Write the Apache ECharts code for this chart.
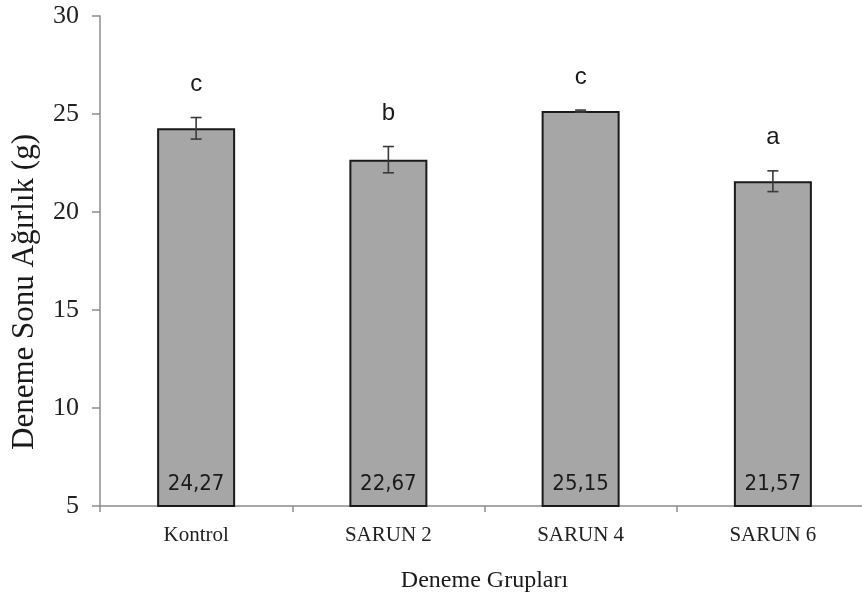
<!DOCTYPE html>
<html>
<head>
<meta charset="utf-8">
<script src="https://cdn.jsdelivr.net/npm/echarts@6/dist/echarts.min.js"></script>
<style>html,body{margin:0;padding:0;background:#fff;}#c{width:862px;height:595px;}</style>
</head>
<body>
<div id="c"></div>
<script>
const categories = ['Kontrol', 'SARUN 2', 'SARUN 4', 'SARUN 6'];
const values = [24.27, 22.67, 25.15, 21.57];
const errors = [0.55, 0.67, 0.05, 0.53];
const letters = ['c', 'b', 'c', 'a'];
const valueLabels = ['24,27', '22,67', '25,15', '21,57'];
const yTicks = [5, 10, 15, 20, 25, 30];
const yTitle = 'Deneme Sonu Ağırlık (g)';
const xTitle = 'Deneme Grupları';

const chart = echarts.init(document.getElementById('c'), null, {renderer: 'canvas'});

const errData = values.map((v, i) => [i, v, errors[i]]);

chart.setOption({
  animation: false,
  backgroundColor: '#ffffff',
  grid: {left: 100, top: 16, bottom: 89, width: 769, containLabel: false, outerBoundsMode: 'none'},
  graphic: [{
    type: 'text',
    x: 25, y: 292,
    rotation: Math.PI / 2,
    style: {
      text: yTitle, align: 'center', verticalAlign: 'middle',
      font: '31px "Liberation Serif", "Times New Roman", serif', fill: '#1a1a1a'
    }
  }],
  xAxis: {
    type: 'category',
    data: categories,
    name: xTitle,
    nameLocation: 'middle',
    nameGap: 63,
    nameTextStyle: {fontFamily: 'Liberation Serif', fontSize: 24, color: '#1a1a1a'},
    axisLine: {lineStyle: {color: '#8c8c8c', width: 1.5}},
    axisTick: {show: true, inside: false, length: 6, lineStyle: {color: '#8c8c8c', width: 1.5}},
    axisLabel: {fontFamily: 'Liberation Serif', fontSize: 21, color: '#222', margin: 19}
  },
  yAxis: {
    type: 'value',
    min: yTicks[0],
    max: yTicks[yTicks.length - 1],
    interval: 5,
    splitLine: {show: false},
    axisLine: {show: true, lineStyle: {color: '#8c8c8c', width: 1.5}},
    axisTick: {show: true, inside: false, length: 8, lineStyle: {color: '#8c8c8c', width: 1.5}},
    axisLabel: {fontFamily: 'Liberation Serif', fontSize: 26, color: '#222', margin: 21}
  },
  series: [
    {
      type: 'bar',
      data: values,
      barWidth: 78,
      itemStyle: {color: '#a6a6a6', borderColor: '#1a1a1a', borderWidth: 2},
      label: {
        show: true,
        position: 'insideBottom',
        distance: 12,
        formatter: p => valueLabels[p.dataIndex],
        fontFamily: 'Liberation Sans Narrow, DejaVu Sans Condensed, Liberation Sans, sans-serif',
        fontSize: 22,
        color: '#1a1a1a'
      },
      z: 2
    },
    {
      type: 'custom',
      data: errData,
      z: 5,
      renderItem: function (params, api) {
        const i = api.value(0), v = api.value(1), e = api.value(2);
        const top = api.coord([i, v + e]);
        const bot = api.coord([i, v - e]);
        const hw = 5.5;
        const style = {stroke: '#3a3a3a', lineWidth: 1.6};
        return {
          type: 'group',
          children: [
            {type: 'line', shape: {x1: top[0], y1: top[1], x2: bot[0], y2: bot[1]}, style},
            {type: 'line', shape: {x1: top[0] - hw, y1: top[1], x2: top[0] + hw, y2: top[1]}, style},
            {type: 'line', shape: {x1: bot[0] - hw, y1: bot[1], x2: bot[0] + hw, y2: bot[1]}, style},
            {type: 'text', style: {
              text: letters[params.dataIndex], x: top[0], y: top[1] - 33,
              align: 'center', verticalAlign: 'middle',
              font: '24px "Liberation Sans", Arial, sans-serif', fill: '#1a1a1a'
            }}
          ]
        };
      }
    }
  ]
});
</script>
</body>
</html>
